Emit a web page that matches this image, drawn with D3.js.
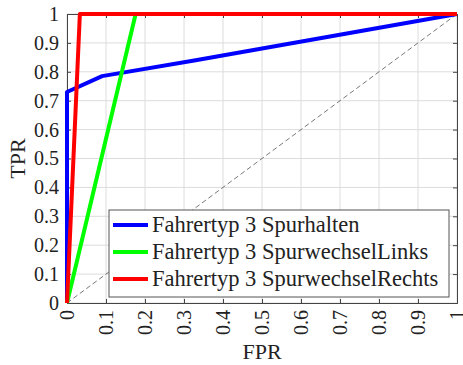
<!DOCTYPE html>
<html>
<head>
<meta charset="UTF-8">
<script src="https://d3js.org/d3.v7.min.js"></script>
<style>
  body { margin: 0; background: #fff; }
</style>
</head>
<body>
<div id="chart"></div>
<script>
  // Kurven (FPR, TPR)
  const seriesNames = ["Fahrertyp 3 Spurhalten", "Fahrertyp 3 SpurwechselLinks", "Fahrertyp 3 SpurwechselRechts"];
  const seriesColors = ["#0000ff", "#00ff00", "#ff0000"];
  const fprSpurhalten = [0, 0, 0.09, 0.33, 1];
  const tprSpurhalten = [0, 0.73, 0.785, 0.84, 1];
  const fprLinks = [0, 0.176, 1];
  const tprLinks = [0, 1, 1];
  const fprRechts = [0, 0.033, 1];
  const tprRechts = [0, 1, 1];
  const ticks = [0, 0.1, 0.2, 0.3, 0.4, 0.5, 0.6, 0.7, 0.8, 0.9, 1];

  const FONT = "'Liberation Serif', 'DejaVu Serif', serif";

  const series = [
    [fprSpurhalten, tprSpurhalten],
    [fprLinks, tprLinks],
    [fprRechts, tprRechts]
  ].map(([xs, ys], i) => ({ name: seriesNames[i], color: seriesColors[i], pts: xs.map((x, j) => [x, ys[j]]) }));

  const W = 463, H = 365;
  const margin = { top: 14, right: 6, bottom: 62, left: 67 };
  const width = W - margin.left - margin.right;
  const height = H - margin.top - margin.bottom;

  const svg = d3.select("#chart").append("svg").attr("width", W).attr("height", H);
  const g = svg.append("g").attr("transform", "translate(" + margin.left + "," + margin.top + ")");

  const x = d3.scaleLinear().domain([0, 1]).range([0, width]);
  const y = d3.scaleLinear().domain([0, 1]).range([height, 0]);

  // Gitter
  g.append("g").selectAll("line").data(ticks).enter().append("line")
    .attr("x1", d => x(d)).attr("x2", d => x(d)).attr("y1", 0).attr("y2", height)
    .attr("stroke", "#dcdcdc").attr("stroke-width", 1);
  g.append("g").selectAll("line").data(ticks).enter().append("line")
    .attr("y1", d => y(d)).attr("y2", d => y(d)).attr("x1", 0).attr("x2", width)
    .attr("stroke", "#dcdcdc").attr("stroke-width", 1);

  // Diagonale
  g.append("line")
    .attr("x1", x(0)).attr("y1", y(0)).attr("x2", x(1)).attr("y2", y(1))
    .attr("stroke", "#555").attr("stroke-width", 0.8).attr("stroke-dasharray", "5,3");

  // Achsen
  const xAxis = g.append("g").attr("transform", "translate(0," + height + ")")
    .call(d3.axisBottom(x).tickValues(ticks).tickSize(-4).tickFormat(d3.format("")));
  xAxis.selectAll(".tick text")
    .attr("transform", "rotate(-90)")
    .attr("x", -7).attr("y", 0).attr("dy", "0.32em")
    .style("text-anchor", "end").style("font-size", "20px").style("font-family", FONT).attr("fill", "#222");

  const yAxis = g.append("g")
    .call(d3.axisLeft(y).tickValues(ticks).tickSize(-4).tickPadding(8).tickFormat(d3.format("")));
  yAxis.selectAll(".tick text").style("font-size", "20px").style("font-family", FONT).attr("fill", "#222");

  g.append("g").attr("transform", "translate(" + width + ",0)")
    .call(d3.axisRight(y).tickValues(ticks).tickSize(-4).tickFormat(""));
  g.append("g")
    .call(d3.axisTop(x).tickValues(ticks).tickSize(-4).tickFormat(""));

  g.selectAll(".domain").attr("stroke", "#444");
  g.selectAll(".tick line").attr("stroke", "#444");

  // Kurven
  const line = d3.line().x(d => x(d[0])).y(d => y(d[1]));
  g.selectAll(".curve").data(series).enter().append("path")
    .attr("class", "curve")
    .attr("d", d => line(d.pts))
    .attr("fill", "none")
    .attr("stroke", d => d.color)
    .attr("stroke-width", 4)
    .attr("stroke-linejoin", "round");

  // Achsenbeschriftung
  svg.append("text").attr("x", margin.left + width / 2).attr("y", 359)
    .attr("text-anchor", "middle").style("font-size", "22px").style("font-family", FONT).attr("fill", "#222").text("FPR");
  svg.append("text").attr("transform", "translate(25," + (margin.top + height / 2) + ") rotate(-90)")
    .attr("text-anchor", "middle").style("font-size", "22px").style("font-family", FONT).attr("fill", "#222").text("TPR");

  // Legende
  const leg = svg.append("g").attr("transform", "translate(109,210)");
  leg.append("rect").attr("width", 340).attr("height", 87)
    .attr("fill", "#fff").attr("stroke", "#555").attr("stroke-width", 1);
  const rows = leg.selectAll(".row").data(series).enter().append("g")
    .attr("transform", (d, i) => "translate(0," + (15 + i * 27) + ")");
  rows.append("line").attr("x1", 4).attr("x2", 39).attr("y1", 0).attr("y2", 0)
    .attr("stroke", d => d.color).attr("stroke-width", 4);
  rows.append("text").attr("x", 43).attr("dy", "0.33em")
    .style("font-size", "22.5px").style("font-family", FONT).attr("fill", "#222").text(d => d.name);
</script>
</body>
</html>
